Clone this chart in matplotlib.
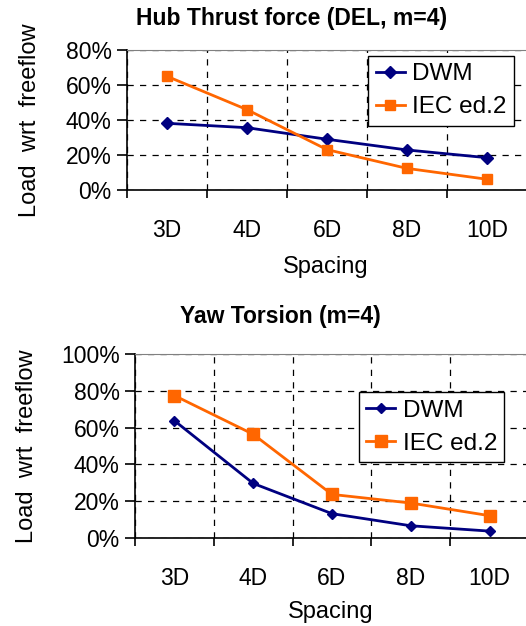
import numpy as np
import matplotlib
matplotlib.use('Agg')
import matplotlib.pyplot as plt
from matplotlib.ticker import PercentFormatter

plt.rc('font', family='Liberation Sans')

# data
spacing = ['3D', '4D', '6D', '8D', '10D']
thrust_dwm = [38.2, 35.7, 29.1, 23.0, 18.6]
thrust_iec = [65.0, 46.0, 23.2, 12.5, 6.3]
yaw_dwm = [63.8, 29.6, 13.1, 6.5, 3.6]
yaw_iec = [77.5, 56.4, 23.6, 18.9, 12.0]

NAVY = '#000080'
ORANGE = '#FF6600'
W, H = 526, 626


def px_axes(fig, left, top, right, bottom):
    return fig.add_axes([left / W, 1 - bottom / H, (right - left) / W, (bottom - top) / H])


def style_panel(ax, dwm, iec, ymax, ms_d, ms_s, leg_anchor, xlab_y, ylab_x):
    x = np.arange(len(spacing))
    ax.plot(x, dwm, color=NAVY, lw=2, marker='D', ms=ms_d, label='DWM', zorder=4)
    ax.plot(x, iec, color=ORANGE, lw=2, marker='s', ms=ms_s, label='IEC ed.2', zorder=4)
    ax.set_xlim(-0.5, len(spacing) - 0.5)
    ax.set_ylim(0, ymax)
    ax.set_yticks(np.arange(0, ymax + 1, 20))
    ax.yaxis.set_major_formatter(PercentFormatter(xmax=100, decimals=0))
    ax.set_xticks(x)
    ax.set_xticklabels(spacing)
    ax.set_xticks(np.arange(-0.5, len(spacing)), minor=True)
    ax.tick_params(axis='x', which='major', length=0, pad=21, labelsize=16.5)
    ax.tick_params(axis='x', which='minor', length=6, width=1.2, direction='out')
    ax.tick_params(axis='y', length=7, width=1.2, direction='out', pad=4, labelsize=16.5)
    ax.grid(True, axis='y', which='major', color='black', ls=(0, (5, 5)), lw=0.9)
    ax.grid(True, axis='x', which='minor', color='black', ls=(0, (5, 5)), lw=0.9)
    ax.grid(False, axis='x', which='major')
    ax.spines['right'].set_visible(False)
    ax.spines['top'].set_color('#808080')
    ax.spines['left'].set_linewidth(1.2)
    ax.spines['bottom'].set_linewidth(1.2)
    ax.set_xlabel('Spacing', fontsize=17)
    ax.xaxis.set_label_coords(0.497, xlab_y)
    ax.set_ylabel('Load  wrt  freeflow', fontsize=17)
    ax.yaxis.set_label_coords(ylab_x, 0.5)
    leg = ax.legend(loc='upper right', bbox_to_anchor=leg_anchor, fontsize=17.5,
                    frameon=True, fancybox=False, edgecolor='black', framealpha=1,
                    handlelength=1.2, handletextpad=0.3, borderpad=0.3,
                    labelspacing=0.45, borderaxespad=0)
    leg.get_frame().set_linewidth(1.0)
    leg.set_zorder(5)


fig = plt.figure(figsize=(W / 100, H / 100), dpi=100)

ax1 = px_axes(fig, 127, 50, 527, 190.3)
style_panel(ax1, thrust_dwm, thrust_iec, 80, 5.8, 7.6, (0.967, 0.957), -0.47, -0.215)
fig.text(292 / W, 1 - 18 / H, 'Hub Thrust force (DEL, m=4)', ha='center', va='center',
         fontsize=16.5, fontweight='bold')

ax2 = px_axes(fig, 135, 354.3, 529, 537.7)
style_panel(ax2, yaw_dwm, yaw_iec, 100, 5.5, 8.5, (0.937, 0.793), -0.345, -0.245)
fig.text(280 / W, 1 - 317 / H, 'Yaw Torsion (m=4)', ha='center', va='center',
         fontsize=16.5, fontweight='bold')

fig.savefig('out.png', dpi=100)
